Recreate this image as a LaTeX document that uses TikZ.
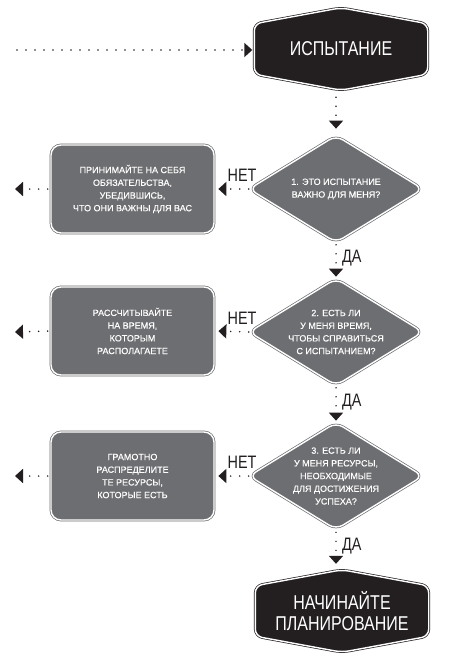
\documentclass[tikz,border=0pt]{standalone}
\usepackage{fontspec}
\setmainfont{Liberation Sans}
\newfontfamily\condfont[FakeStretch=0.8]{Liberation Sans}
\newfontfamily\boxfont[FakeBold=0.25]{Liberation Sans}
\usetikzlibrary{shapes.geometric,arrows.meta,backgrounds}
\definecolor{ink}{HTML}{231F20}
\definecolor{slate}{HTML}{6D6E71}
\tikzset{
 hexbox/.style={minimum width=173pt, minimum height=82pt, inner sep=0pt, text=white, align=center, font=\condfont\fontsize{20}{20.5}\selectfont},
 hexline/.style={draw=ink, fill=ink, double=white, double distance=1.4pt, line width=0.7pt, rounded corners=7pt},
 dia/.style={diamond, draw=slate, fill=slate, double=white, double distance=1.4pt, line width=0.7pt, rounded corners=8pt, minimum width=174pt, minimum height=107pt, inner sep=0pt},
 dtext/.style={text=white, align=center, font=\boxfont\fontsize{9}{12.7}\selectfont, inner sep=0pt},
 advice/.style={rectangle, draw=slate, fill=slate, double=white, double distance=1.4pt, line width=0.7pt, rounded corners=10pt, minimum width=163pt, minimum height=88pt, inner sep=0pt, text=white, align=center, font=\boxfont\fontsize{9}{12.7}\selectfont},
 flow/.style={draw=ink, line width=1.7pt, line cap=round, dash pattern=on 0pt off 9pt, -{Triangle[length=8pt,width=14pt]}},
 answer/.style={text=ink, inner sep=0pt, font=\condfont\fontsize{18}{18}\selectfont},
}
\begin{document}
\begin{tikzpicture}[x=1pt,y=1pt]
\useasboundingbox (0,0) rectangle (453,-658);
% main nodes
\node[hexbox] (start) at (341,-49) {ИСПЫТАНИЕ};
\node[dia, label={[dtext]center:{1. ЭТО ИСПЫТАНИЕ\\ВАЖНО ДЛЯ МЕНЯ?}}] (q1) at (336,-189) {};
\node[dia, label={[dtext]center:{2. ЕСТЬ ЛИ\\У МЕНЯ ВРЕМЯ,\\ЧТОБЫ СПРАВИТЬСЯ\\С ИСПЫТАНИЕМ?}}] (q2) at (336,-332) {};
\node[dia, label={[dtext]center:{3. ЕСТЬ ЛИ\\У МЕНЯ РЕСУРСЫ,\\НЕОБХОДИМЫЕ\\ДЛЯ ДОСТИЖЕНИЯ\\УСПЕХА?}}] (q3) at (336,-476) {};
\node[advice] (a1) at (132.5,-189) {ПРИНИМАЙТЕ НА СЕБЯ\\ОБЯЗАТЕЛЬСТВА,\\УБЕДИВШИСЬ,\\ЧТО ОНИ ВАЖНЫ ДЛЯ ВАС};
\node[advice] (a2) at (132.5,-331) {РАССЧИТЫВАЙТЕ\\НА ВРЕМЯ,\\КОТОРЫМ\\РАСПОЛАГАЕТЕ};
\node[advice] (a3) at (132.5,-476) {ГРАМОТНО\\РАСПРЕДЕЛИТЕ\\ТЕ РЕСУРСЫ,\\КОТОРЫЕ ЕСТЬ};
\node[hexbox] (finish) at (342,-611) {НАЧИНАЙТЕ\\ПЛАНИРОВАНИЕ};
% free ends
\coordinate (in) at (17,-50);
\coordinate (o1) at (15,-189);
\coordinate (o2) at (15,-332);
\coordinate (o3) at (15,-476);
% connectors
\draw[flow, shorten >=2pt] (in) -- (in -| start.west);
\draw[flow, shorten <=7pt, shorten >=6.5pt] (start.south -| q1.north) -- (q1.north);
\draw[flow, shorten <=2pt, shorten >=1.5pt] (q1.south) -- (q2.north);
\draw[flow, shorten <=2pt, shorten >=1.5pt] (q2.south) -- (q3.north);
\draw[flow, shorten <=2.5pt, shorten >=6pt] (q3.south) -- (finish.north -| q3.south);
\foreach \i in {1,2,3} {
  \draw[flow, shorten >=4pt] (q\i.west) -- (a\i.east);
  \draw[flow, shorten <=3pt] (a\i.west) -- (o\i);
}
% answer labels
\node[answer, anchor=base] (n1) at (242,-181) {НЕТ};
\node[answer, anchor=base] (n2) at (242,-324) {НЕТ};
\node[answer, anchor=base] (n3) at (242,-468) {НЕТ};
\node[answer, anchor=base west] (y1) at (342,-262) {ДА};
\node[answer, anchor=base west] (y2) at (342,-406) {ДА};
\node[answer, anchor=base west] (y3) at (342,-550) {ДА};
% hexagon outlines
\begin{scope}[on background layer]
\fill[white] (0,0) rectangle (453,-658);
\foreach \h in {start,finish} {
  \draw[hexline] (\h.north) -- ([yshift=-16pt]\h.north east) -- ([yshift=16pt]\h.south east) -- (\h.south) -- ([yshift=16pt]\h.south west) -- ([yshift=-16pt]\h.north west) -- cycle;
}
\end{scope}
\end{tikzpicture}
\end{document}
